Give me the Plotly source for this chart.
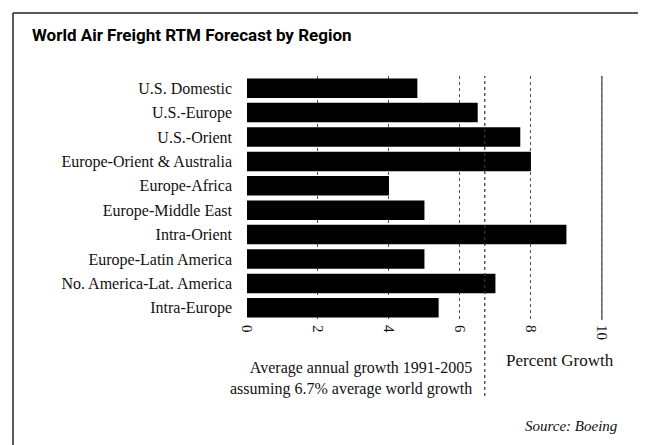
import plotly.graph_objects as go

regions = [
    "U.S. Domestic",
    "U.S.-Europe",
    "U.S.-Orient",
    "Europe-Orient &amp; Australia",
    "Europe-Africa",
    "Europe-Middle East",
    "Intra-Orient",
    "Europe-Latin America",
    "No. America-Lat. America",
    "Intra-Europe",
]
growth = [4.8, 6.5, 7.7, 8.0, 4.0, 5.0, 9.0, 5.0, 7.0, 5.4]
world_growth = 6.7
tick_vals = [0, 2, 4, 6, 8, 10]

W, H = 646, 445
L, R, T, B = 239, 45, 68, 133
PW, PH = W - L - R, H - T - B


def px(x):
    return (x - L) / PW


def py(y):
    return (H - B - y) / PH


SERIF = "Liberation Serif, Times New Roman, serif"

fig = go.Figure()
fig.add_trace(
    go.Bar(
        x=growth,
        y=regions,
        orientation="h",
        marker=dict(color="#000000", line=dict(width=0)),
        width=0.8,
        hoverinfo="x+y",
    )
)

shapes = [
    # 6.7% world average, dotted, runs down past the axis
    dict(type="line", xref="x", yref="paper", x0=world_growth, x1=world_growth,
         y0=py(388), y1=1, line=dict(color="#333333", width=1.2, dash="dot")),
    dict(type="line", xref="x", yref="paper", x0=10, x1=10, y0=0, y1=1,
         line=dict(color="#666666", width=1.5)),
    # frame
    dict(type="line", xref="paper", yref="paper", x0=px(5), x1=px(646), y0=py(5), y1=py(5),
         line=dict(color="#222222", width=1.5)),
    dict(type="line", xref="paper", yref="paper", x0=px(5), x1=px(5), y0=py(5), y1=py(445),
         line=dict(color="#222222", width=1.5)),
    dict(type="line", xref="paper", yref="paper", x0=px(644), x1=px(644), y0=py(300), y1=py(445),
         line=dict(color="#999999", width=1)),
]

annotations = [
    dict(text="<b>World Air Freight RTM Forecast by Region</b>", x=px(22), y=py(27),
         xanchor="left", yanchor="middle",
         font=dict(family="Roboto, DejaVu Sans, sans-serif", size=17, color="#000000")),
    dict(text="Percent Growth", x=px(552), y=py(352), xanchor="center", yanchor="middle",
         font=dict(family=SERIF, size=17, color="#111111")),
    dict(text="Average annual growth 1991-2005<br>assuming 6.7% average world growth",
         x=px(466), y=py(370), xanchor="right", yanchor="middle", align="right",
         font=dict(family=SERIF, size=16, color="#111111")),
    dict(text="<i>Source: Boeing</i>", x=px(612), y=py(418), xanchor="right", yanchor="middle",
         font=dict(family=SERIF, size=15, color="#111111")),
]
for a in annotations:
    a.update(xref="paper", yref="paper", showarrow=False)

fig.update_layout(
    width=W,
    height=H,
    margin=dict(l=L, r=R, t=T, b=B, autoexpand=False),
    paper_bgcolor="#ffffff",
    plot_bgcolor="#ffffff",
    showlegend=False,
    bargap=0.2,
    shapes=shapes,
    annotations=annotations,
    xaxis=dict(
        range=[0, 10.2],
        tickvals=tick_vals,
        tickangle=90,
        tickfont=dict(family=SERIF, size=15, color="#111111"),
        ticks="",
        ticklabelstandoff=4,
        showgrid=True,
        gridcolor="#555555",
        griddash="dot",
        gridwidth=1,
        zeroline=False,
        showline=False,
        fixedrange=True,
    ),
    yaxis=dict(
        autorange="reversed",
        tickfont=dict(family=SERIF, size=16, color="#111111"),
        ticks="",
        ticklabelstandoff=14,
        showgrid=False,
        zeroline=False,
        showline=False,
        fixedrange=True,
    ),
)

fig.write_html("out.html")
